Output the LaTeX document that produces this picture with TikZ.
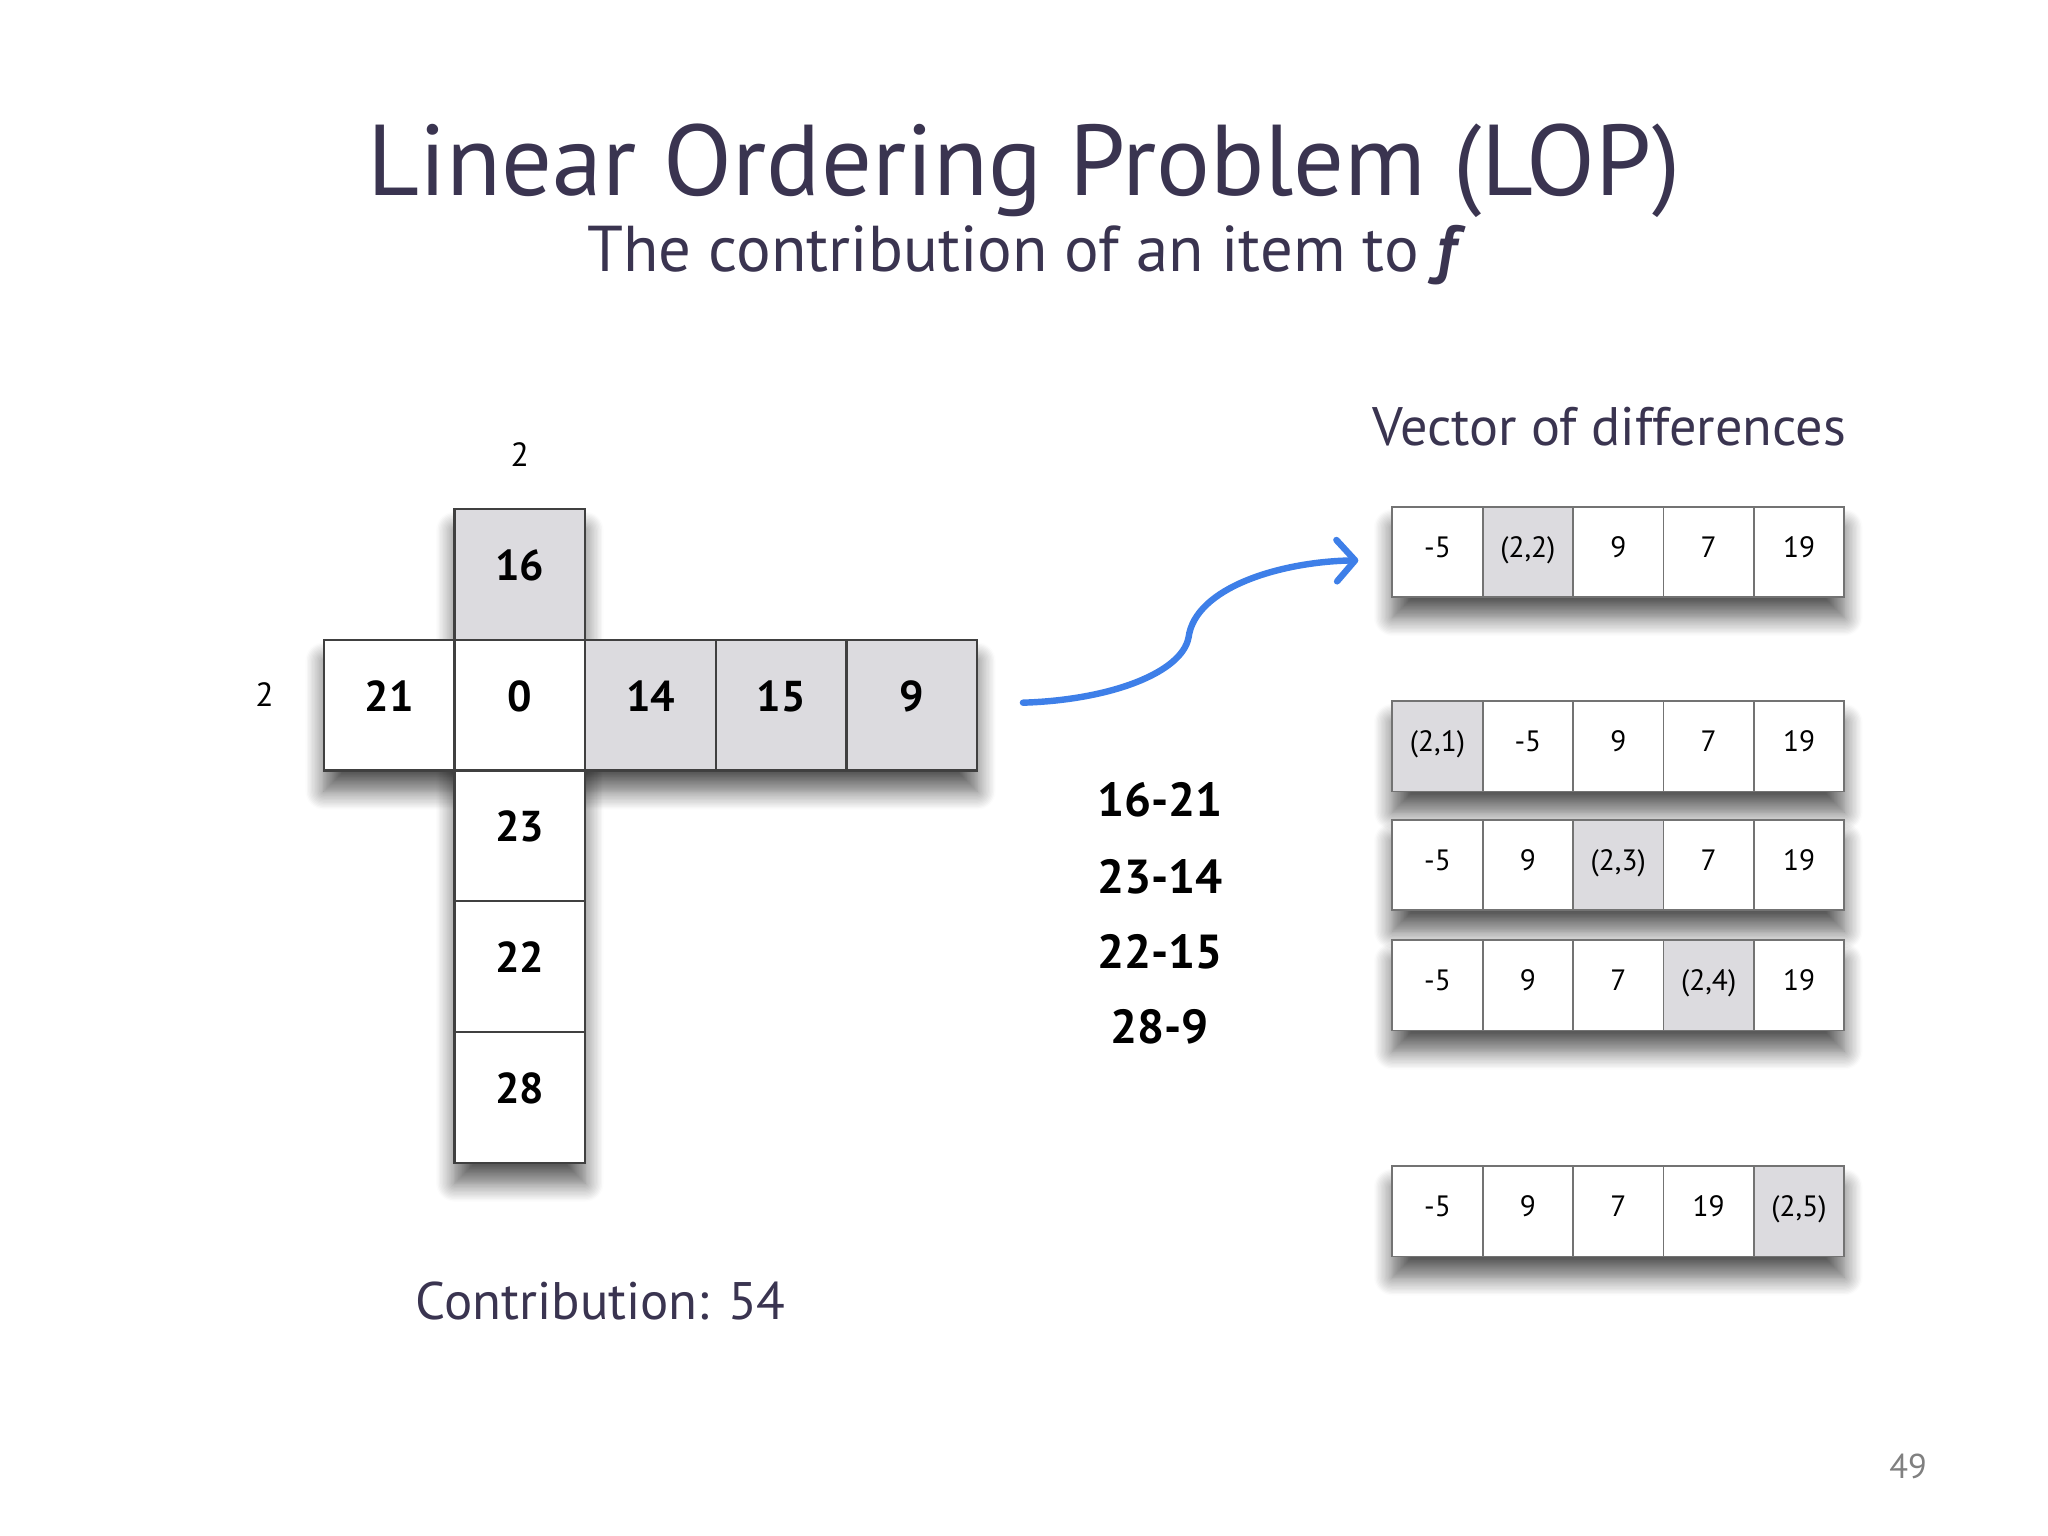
\documentclass[tikz,border=0pt]{standalone}
\usepackage{fontspec}
\setmainfont{PT Sans}
\usetikzlibrary{positioning,calc,arrows.meta,backgrounds,shadows.blur}
\definecolor{ink}{RGB}{58,52,80}
\definecolor{cellgray}{RGB}{220,219,223}
\definecolor{arrowblue}{RGB}{62,127,232}

\begin{document}
\begin{tikzpicture}[x=0.01cm, y=-0.01cm,
  cell/.style={draw=black!75, line width=0.5pt, fill=white, minimum size=1cm,
    outer sep=0pt, inner sep=0pt, text height=6.6pt, text depth=4pt,
    font=\fontsize{9.4}{11}\selectfont\bfseries},
  vcell/.style={draw=black!55, line width=0.4pt, fill=white, minimum width=0.692cm,
    minimum height=0.69cm, outer sep=0pt, inner sep=0pt, text height=4.6pt,
    text depth=2.2pt, font=\fontsize{6.4}{8}\selectfont},
  picked/.style={fill=cellgray},
  diff/.style={font=\fontsize{10.4}{12}\selectfont\bfseries},
  softshadow/.style={blur shadow={shadow xshift=0pt, shadow yshift=-4.5pt,
    shadow blur radius=4pt, shadow blur steps=14, shadow opacity=65}},
  flow/.style={draw=arrowblue, line width=1.4pt, line cap=round},
  >={Straight Barb[length=4pt, width=9pt, round]}]
\useasboundingbox (0,0) rectangle (1568,1176);
\node[anchor=base, text=ink, font=\fontsize{21.9}{26}\selectfont] (title) at (784,150)
  {Linear Ordering Problem (LOP)};
\node[anchor=base, text=ink, font=\fontsize{14.1}{17}\selectfont] (subtitle) at (786,208)
  {The contribution of an item to \textbf{\textit{f}}};
% the cross of row 2 and column 2
\node[cell] (c0) at (398,540) {0};
\node[cell, left=0pt of c0] (c21) {21};
\node[cell, picked, right=0pt of c0] (c14) {14};
\node[cell, picked, right=0pt of c14] (c15) {15};
\node[cell, picked, right=0pt of c15] (c9) {9};
\node[cell, picked, above=0pt of c0] (c16) {16};
\node[cell, below=0pt of c0] (c23) {23};
\node[cell, below=0pt of c23] (c22) {22};
\node[cell, below=0pt of c22] (c28) {28};
\node[font=\fontsize{7.3}{9}\selectfont, above=0.2cm of c16] (colidx) {2};
\node[font=\fontsize{7.3}{9}\selectfont, left=0.26cm of c21, yshift=2.3pt] (rowidx) {2};
\begin{scope}[on background layer]
  \path[softshadow] (c21.north west) rectangle (c9.south east);
  \path[softshadow] (c16.north west) rectangle (c28.south east);
\end{scope}
\node[anchor=base, text=ink, font=\fontsize{11.5}{14}\selectfont] (contrib) at (460,1010)
  {Contribution: 54};
\node[diff] (d1) at (888,612) {16-21};
\node[diff] (d2) at (888,671) {23-14};
\node[diff] (d3) at (888,729) {22-15};
\node[diff] (d4) at (888,786) {28-9};
% vectors of differences
\node[anchor=base, text=ink, font=\fontsize{11.8}{14}\selectfont] (vectitle) at (1232,341)
  {Vector of differences};
\foreach \vr/\vy/\hl/\va/\vb/\vc/\vd/\ve in {1/422.5/2/-5/{(2,2)}/9/7/19,
    2/571.5/1/{(2,1)}/-5/9/7/19, 3/662.5/3/-5/9/{(2,3)}/7/19,
    4/754.5/4/-5/9/7/{(2,4)}/19, 5/927.5/5/-5/9/7/19/{(2,5)}}{
  \foreach \vt [count=\vi] in {\va,\vb,\vc,\vd,\ve}{
    \ifnum\vi=\hl \def\vfill{cellgray}\else \def\vfill{white}\fi
    \node[vcell, fill=\vfill] (v\vr\vi) at (1066+69.2*\vi-34.6,\vy) {\vt};
  }
  \begin{scope}[on background layer]
    \path[softshadow] (v\vr1.north west) rectangle (v\vr5.south east);
  \end{scope}
}
\coordinate (arrfrom) at ($(c9.east)+(35,-2)$);
\coordinate (arrbend) at (910,488);
\coordinate (arrto) at ($(v11.west)+(-26,6.5)$);
\draw[flow, ->] (arrfrom) .. controls +(67,-2) and +(-5,27) .. (arrbend)
  .. controls +(5,-38) and +(-60,1) .. (arrto);
\node[text=black!50, font=\fontsize{7.5}{9}\selectfont] (pageno) at (1461,1123) {49};
\end{tikzpicture}
\end{document}
